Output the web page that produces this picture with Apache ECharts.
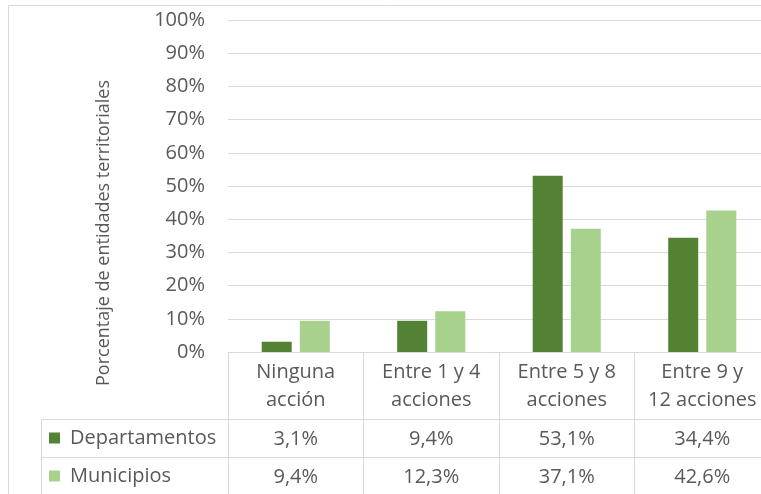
<!DOCTYPE html>
<html>
<head>
<meta charset="utf-8">
<script src="https://cdn.jsdelivr.net/npm/echarts@6/dist/echarts.min.js"></script>
<style>
  html, body { margin: 0; padding: 0; background: #fff; }
  #chart { width: 761px; height: 494px; }
</style>
</head>
<body>
<div id="chart"></div>
<script>
const categories = ['Ninguna\nacción', 'Entre 1 y 4\nacciones', 'Entre 5 y 8\nacciones', 'Entre 9 y\n12 acciones'];
const seriesNames = ['Departamentos', 'Municipios'];
const departamentos = [3.1, 9.4, 53.1, 34.4];
const municipios = [9.4, 12.3, 37.1, 42.6];
const yTicks = [0, 10, 20, 30, 40, 50, 60, 70, 80, 90, 100];

const font = 'Open Sans';
const grey = '#595959';
const lineGrey = '#d9d9d9';
const fs = 20;
const fmt = v => v.toFixed(1).replace('.', ',') + '%';

let myChart = echarts.init(document.getElementById('chart'));

// one legend per table row
const legendRow = (name, top) => ({
  orient: 'vertical',
  left: 49,
  top: top,
  padding: 0,
  itemWidth: 11,
  itemHeight: 11,
  icon: 'rect',
  textStyle: { fontSize: fs, color: grey, fontFamily: font, padding: [0, 0, 0, 5] },
  data: [name]
});

myChart.setOption({
  animation: false,
  textStyle: { fontFamily: font },
  grid: {
    left: 228,
    top: 20,
    right: -9,
    bottom: 142,
    containLabel: false,
    outerBoundsMode: 'none'
  },
  legend: [legendRow(seriesNames[0], 428), legendRow(seriesNames[1], 466)],
  xAxis: [
    {
      type: 'category',
      data: categories,
      axisLine: { show: true, lineStyle: { color: lineGrey } },
      axisTick: { show: true, length: 150, lineStyle: { color: lineGrey } },
      axisLabel: { color: grey, fontSize: fs, lineHeight: 28, margin: 6, interval: 0 }
    },
    {
      type: 'category',
      position: 'bottom',
      offset: 67,
      data: departamentos.map(fmt),
      axisLine: { show: true, lineStyle: { color: lineGrey } },
      axisTick: { show: false },
      axisLabel: { color: grey, fontSize: fs, margin: 10, interval: 0 }
    },
    {
      type: 'category',
      position: 'bottom',
      offset: 105,
      data: municipios.map(fmt),
      axisLine: { show: true, lineStyle: { color: lineGrey } },
      axisTick: { show: false },
      axisLabel: { color: grey, fontSize: fs, margin: 10, interval: 0 }
    }
  ],
  yAxis: {
    type: 'value',
    min: yTicks[0],
    max: yTicks[yTicks.length - 1],
    interval: 10,
    axisLine: { show: false },
    axisTick: { show: false },
    splitLine: { lineStyle: { color: lineGrey } },
    axisLabel: { color: grey, fontSize: fs, margin: 23, formatter: '{value}%' }
  },
  series: [
    {
      name: seriesNames[0],
      type: 'bar',
      data: departamentos,
      barWidth: 30,
      barGap: '27%',
      itemStyle: { color: '#548235' }
    },
    {
      name: seriesNames[1],
      type: 'bar',
      data: municipios,
      barWidth: 30,
      itemStyle: { color: '#a9d18e' }
    }
  ],
  graphic: [
    // chart area border
    { type: 'line', shape: { x1: 8, y1: 5.5, x2: 761, y2: 5.5 }, style: { stroke: lineGrey, lineWidth: 1 } },
    { type: 'line', shape: { x1: 8.5, y1: 5, x2: 8.5, y2: 494 }, style: { stroke: lineGrey, lineWidth: 1 } },
    // table rows on the legend side
    { type: 'line', shape: { x1: 41, y1: 419.5, x2: 228, y2: 419.5 }, style: { stroke: lineGrey, lineWidth: 1 } },
    { type: 'line', shape: { x1: 41, y1: 457.5, x2: 228, y2: 457.5 }, style: { stroke: lineGrey, lineWidth: 1 } },
    { type: 'line', shape: { x1: 41.5, y1: 419, x2: 41.5, y2: 494 }, style: { stroke: lineGrey, lineWidth: 1 } },
    {
      type: 'text',
      x: 104,
      y: 233,
      rotation: Math.PI / 2,
      style: {
        text: 'Porcentaje de entidades territoriales',
        fill: grey,
        fontSize: 18,
        fontFamily: font,
        align: 'center',
        verticalAlign: 'middle'
      }
    }
  ]
});
</script>
</body>
</html>
